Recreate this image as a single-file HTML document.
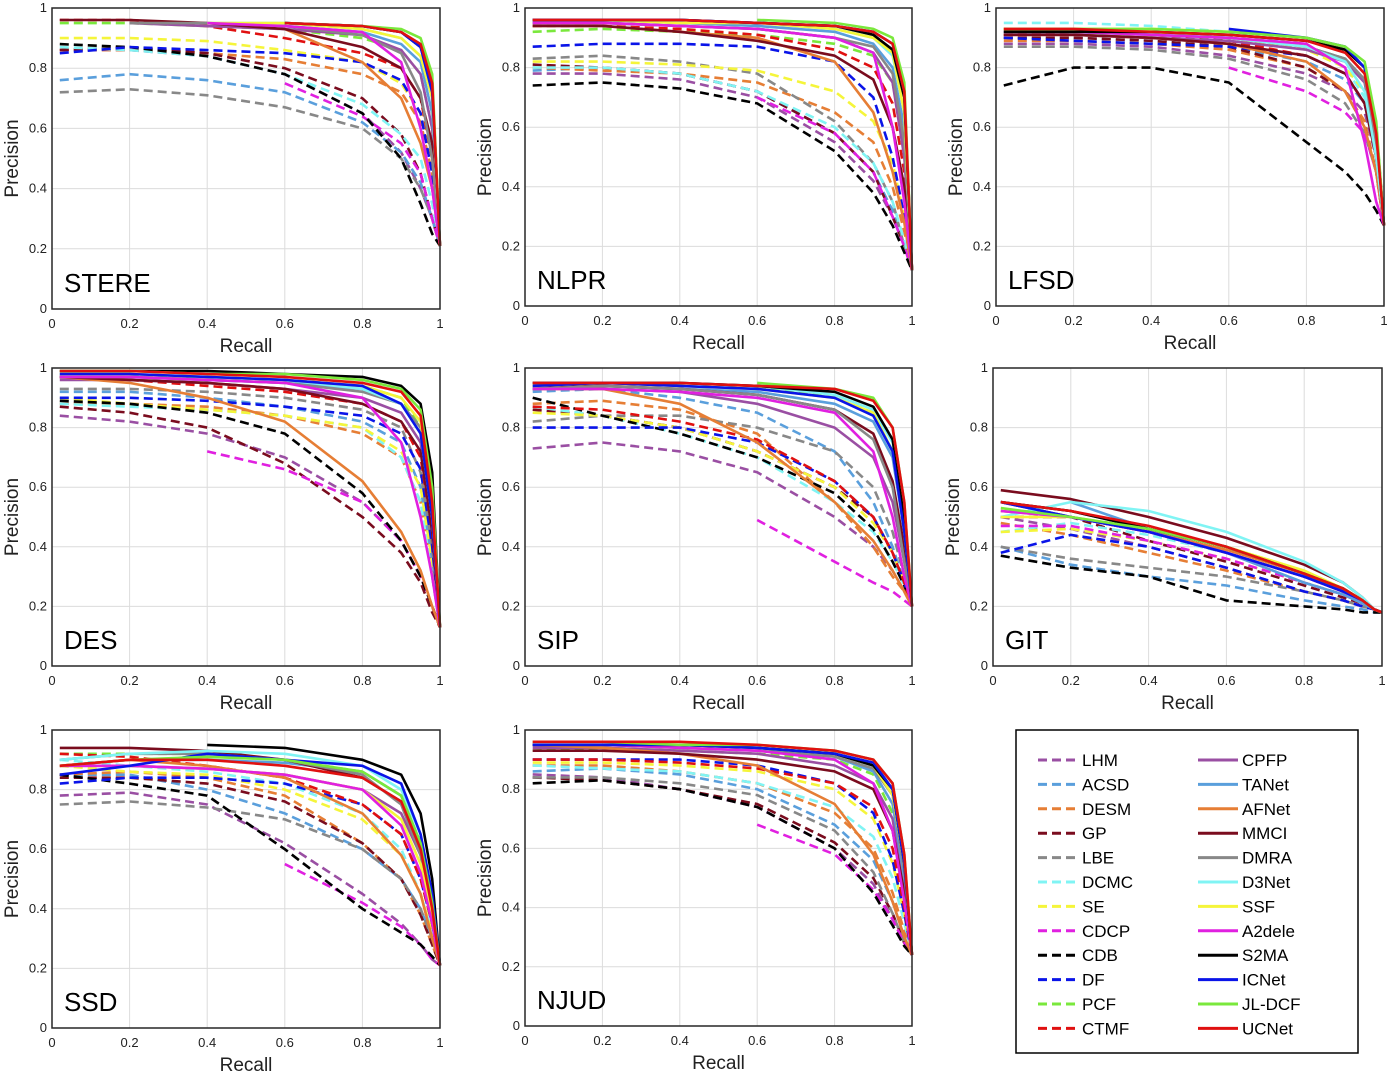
<!DOCTYPE html>
<html><head><meta charset="utf-8"><style>
html,body{margin:0;padding:0;background:#fff;}
svg{display:block;font-family:"Liberation Sans",sans-serif;}
</style></head><body>
<svg id="fig" width="1389" height="1077" viewBox="0 0 1389 1077"></svg>
<script>
const recallGrid = [0.02, 0.2, 0.4, 0.6, 0.8, 0.9, 0.95, 0.98];
const methods = ["LHM","ACSD","DESM","GP","LBE","DCMC","SE","CDCP","CDB","DF","PCF","CTMF","CPFP","TANet","AFNet","MMCI","DMRA","D3Net","SSF","A2dele","S2MA","ICNet","JL-DCF","UCNet"];
const colors = ["#9a4fa3","#5a9fdc","#e67e35","#7a0c1e","#888888","#80f4f4","#f5f53a","#e020e0","#000000","#0a14e8","#7ae83c","#e01010","#9a4fa3","#5a9fdc","#e67e35","#7a0c1e","#888888","#80f4f4","#f5f53a","#e020e0","#000000","#0a14e8","#7ae83c","#e01010"];
const datasets = ["STERE","NLPR","LFSD","DES","SIP","GIT","SSD","NJUD"];
const endValues = [0.21,0.12,0.27,0.13,0.2,0.18,0.21,0.24];
const STERE = [
[.86,.86,.84,.78,.65,.52,.4,.3],[.76,.78,.76,.72,.62,.52,.42,.3],[.86,.86,.85,.83,.78,.72,.62,.45],[.86,.87,.85,.80,.70,.58,.45,.3],
[.72,.73,.71,.67,.60,.5,.4,.3],[.87,.86,.84,.78,.68,.58,.5,.35],[.90,.90,.89,.86,.82,.75,.65,.5],[null,null,null,.75,.64,.55,.45,.3],
[.88,.87,.84,.78,.65,.5,.35,.25],[.85,.87,.86,.85,.82,.76,.65,.45],[.95,.95,.94,.93,.90,.86,.78,.6],[.96,.96,.94,.90,.85,.80,.7,.5],
[null,.95,.94,.93,.91,.86,.78,.6],[null,null,.95,.94,.92,.88,.82,.65],[null,null,null,.93,.82,.7,.55,.4],[.96,.96,.95,.93,.87,.8,.7,.55],
[null,.95,.95,.94,.91,.85,.72,.5],[null,null,.95,.95,.93,.9,.84,.7],[null,null,.95,.95,.93,.9,.84,.7],[null,null,.95,.94,.92,.82,.6,.4],
[null,null,null,.95,.94,.92,.87,.75],[null,null,null,.95,.94,.92,.87,.72],[null,null,null,.95,.94,.93,.9,.78],[null,null,null,.95,.94,.92,.88,.75]];
const NLPR = [
[.78,.78,.76,.70,.55,.42,.3,.2],[.79,.80,.78,.72,.58,.45,.32,.2],[.80,.79,.78,.75,.65,.55,.4,.25],[.81,.80,.78,.72,.58,.45,.3,.2],
[.83,.84,.82,.78,.62,.48,.35,.2],[.80,.80,.78,.72,.6,.48,.35,.22],[.82,.82,.81,.79,.72,.62,.48,.3],[null,null,null,.7,.58,.45,.3,.2],
[.74,.75,.73,.68,.52,.38,.27,.18],[.87,.88,.88,.87,.82,.7,.5,.3],[.92,.93,.92,.91,.88,.84,.75,.55],[.94,.94,.93,.91,.86,.8,.68,.45],
[.95,.95,.94,.93,.9,.85,.75,.5],[.95,.96,.95,.94,.92,.88,.8,.6],[.94,.94,.92,.9,.82,.65,.45,.28],[.94,.94,.92,.89,.84,.76,.6,.4],
[.95,.95,.94,.93,.9,.87,.78,.55],[.96,.96,.96,.95,.93,.9,.84,.65],[.96,.96,.95,.95,.93,.9,.85,.65],[.95,.95,.94,.93,.9,.85,.6,.35],
[.96,.96,.96,.95,.94,.91,.86,.7],[.96,.96,.96,.95,.94,.92,.88,.72],[null,null,null,.96,.95,.93,.9,.75],[.96,.96,.96,.95,.94,.92,.88,.72]];
const LFSD = [
[.88,.88,.87,.84,.78,.72,.65,.5],[.90,.90,.89,.87,.82,.76,.68,.5],[.89,.89,.88,.86,.80,.72,.62,.45],[.90,.90,.89,.87,.80,.72,.6,.45],
[.87,.87,.86,.83,.76,.68,.58,.45],[.95,.95,.94,.92,.87,.8,.7,.5],[.93,.93,.92,.9,.86,.8,.72,.55],[null,null,null,.8,.72,.65,.58,.45],
[.74,.80,.80,.75,.55,.45,.38,.32],[.90,.89,.88,.87,.84,.78,.68,.5],[.92,.92,.91,.9,.87,.83,.75,.58],[.91,.92,.91,.89,.84,.78,.68,.5],
[.91,.91,.9,.89,.86,.82,.75,.55],[.92,.92,.91,.9,.87,.83,.76,.55],[.91,.91,.9,.88,.82,.72,.6,.45],[.91,.91,.9,.88,.84,.78,.68,.5],
[.92,.92,.91,.9,.87,.83,.76,.55],[.92,.92,.91,.9,.87,.82,.72,.5],[.93,.93,.93,.92,.9,.86,.8,.6],[.92,.92,.91,.9,.88,.8,.55,.35],
[.92,.92,.92,.91,.89,.86,.8,.6],[null,null,null,.93,.9,.87,.8,.6],[.93,.93,.93,.92,.9,.87,.82,.62],[.93,.93,.92,.91,.89,.85,.78,.58]];
const DES = [
[.84,.82,.78,.7,.55,.42,.3,.2],[.92,.92,.9,.87,.82,.75,.6,.35],[.88,.88,.87,.84,.78,.7,.55,.3],[.87,.85,.8,.68,.5,.38,.28,.18],
[.93,.93,.92,.9,.86,.8,.65,.4],[.88,.87,.86,.84,.8,.7,.55,.3],[.90,.88,.86,.84,.8,.72,.6,.35],[null,null,.72,.66,.55,.42,.3,.2],
[.89,.88,.85,.78,.58,.42,.3,.2],[.9,.9,.89,.87,.84,.78,.66,.4],[.97,.97,.97,.96,.94,.9,.8,.5],[.97,.96,.94,.92,.88,.82,.7,.45],
[.96,.96,.95,.93,.9,.85,.75,.45],[.97,.97,.96,.95,.93,.88,.78,.5],[.97,.95,.9,.82,.62,.45,.32,.2],[.97,.96,.95,.93,.88,.82,.72,.45],
[.97,.97,.96,.95,.92,.88,.8,.5],[.98,.98,.97,.96,.93,.88,.78,.5],[.98,.98,.97,.96,.94,.9,.82,.55],[.97,.97,.96,.95,.9,.75,.5,.3],
[.99,.99,.99,.98,.97,.94,.88,.65],[.98,.98,.97,.96,.94,.88,.78,.5],[.99,.99,.98,.98,.96,.93,.86,.6],[.99,.99,.98,.97,.95,.92,.84,.55]];
const SIP = [
[.73,.75,.72,.65,.5,.4,.32,.25],[.92,.93,.9,.85,.72,.55,.4,.28],[.88,.89,.86,.78,.55,.4,.3,.25],[.86,.84,.8,.72,.6,.5,.38,.28],
[.82,.84,.84,.8,.72,.6,.45,.3],[.87,.84,.78,.7,.55,.45,.35,.27],[.85,.84,.8,.72,.6,.48,.38,.28],[null,null,null,.49,.35,.28,.25,.22],
[.9,.84,.78,.7,.58,.46,.35,.27],[.8,.8,.8,.75,.62,.5,.38,.28],[null,null,null,.94,.9,.85,.72,.45],[.87,.86,.82,.76,.62,.5,.38,.28],
[.93,.93,.92,.88,.8,.7,.55,.35],[.93,.94,.93,.92,.88,.82,.7,.45],[.93,.93,.88,.75,.55,.42,.32,.25],[.94,.94,.93,.91,.86,.78,.62,.4],
[.93,.94,.93,.91,.86,.76,.6,.35],[.94,.95,.95,.94,.91,.86,.75,.5],[.94,.95,.94,.93,.9,.85,.72,.45],[.93,.93,.92,.9,.85,.72,.5,.3],
[.95,.95,.95,.94,.92,.87,.76,.5],[.94,.95,.94,.93,.9,.84,.72,.45],[null,null,null,.95,.93,.9,.8,.55],[.95,.95,.95,.94,.93,.89,.8,.55]];
const GIT = [
[.5,.46,.4,.33,.25,.22,.2,.19],[.4,.34,.3,.27,.22,.2,.19,.18],[.48,.44,.38,.32,.25,.22,.2,.19],[.55,.5,.42,.35,.27,.23,.21,.19],
[.4,.36,.33,.3,.25,.22,.2,.19],[.45,.48,.44,.38,.3,.25,.22,.19],[.45,.46,.42,.36,.28,.24,.21,.19],[.47,.47,.42,.36,.28,.24,.21,.19],
[.37,.33,.3,.22,.2,.19,.18,.18],[.38,.44,.4,.33,.25,.22,.2,.19],[.5,.5,.45,.38,.3,.25,.22,.19],[.5,.5,.45,.38,.3,.25,.22,.19],
[.55,.5,.45,.38,.3,.25,.22,.19],[null,.55,.46,.38,.28,.24,.21,.19],[.52,.5,.45,.39,.31,.26,.22,.19],[.59,.56,.5,.43,.34,.28,.23,.19],
[.55,.52,.46,.4,.31,.26,.22,.19],[.5,.55,.52,.45,.35,.28,.23,.19],[.5,.5,.46,.4,.32,.26,.22,.19],[.52,.5,.45,.38,.3,.25,.22,.19],
[.55,.52,.46,.4,.31,.26,.22,.19],[.55,.5,.45,.38,.3,.25,.22,.19],[.53,.5,.46,.4,.31,.26,.22,.19],[.55,.52,.47,.4,.31,.26,.22,.19]];
const SSD = [
[.78,.79,.75,.62,.45,.35,.28,.23],[.85,.85,.8,.72,.6,.5,.4,.3],[.85,.86,.84,.78,.62,.5,.38,.28],[.84,.84,.82,.76,.62,.5,.38,.28],
[.75,.76,.74,.7,.6,.5,.4,.3],[.9,.88,.86,.82,.72,.6,.45,.32],[.88,.86,.85,.8,.7,.58,.45,.32],[null,null,null,.55,.42,.34,.28,.23],
[.85,.82,.78,.6,.4,.32,.28,.24],[.82,.84,.84,.82,.75,.65,.5,.35],[.92,.92,.92,.9,.86,.78,.62,.4],[.92,.91,.88,.84,.75,.65,.5,.35],
[.88,.88,.87,.85,.8,.72,.58,.4],[.88,.9,.9,.89,.86,.78,.62,.42],[.88,.9,.88,.84,.72,.58,.45,.3],[.94,.94,.93,.9,.84,.76,.62,.45],
[.9,.92,.92,.9,.85,.75,.58,.38],[.9,.92,.93,.92,.88,.8,.65,.42],[.88,.88,.87,.85,.8,.7,.55,.38],[.88,.88,.87,.85,.8,.68,.52,.35],
[null,null,.95,.94,.9,.85,.72,.5],[.85,.88,.92,.9,.88,.82,.65,.45],[.88,.9,.91,.9,.86,.78,.62,.42],[.88,.9,.9,.88,.84,.76,.6,.4]];
const NJUD = [
[.85,.84,.8,.74,.6,.48,.36,.28],[.86,.87,.85,.8,.68,.56,.42,.3],[.88,.88,.86,.82,.72,.6,.45,.32],[.84,.83,.8,.75,.62,.5,.38,.28],
[.84,.84,.82,.78,.66,.52,.38,.28],[.88,.87,.86,.82,.74,.64,.5,.35],[.89,.89,.88,.86,.8,.7,.55,.38],[null,null,null,.68,.58,.46,.36,.28],
[.82,.83,.8,.74,.6,.45,.34,.27],[.9,.9,.9,.88,.82,.72,.56,.38],[.93,.94,.93,.92,.9,.85,.72,.48],[.9,.9,.89,.87,.82,.74,.6,.4],
[.94,.94,.93,.92,.88,.82,.7,.45],[.95,.95,.95,.94,.91,.86,.75,.5],[.95,.94,.92,.88,.75,.58,.42,.3],[.93,.93,.92,.9,.86,.8,.66,.45],
[.95,.95,.94,.93,.91,.87,.78,.52],[.95,.95,.95,.94,.92,.88,.8,.55],[.95,.95,.95,.94,.92,.88,.78,.55],[.95,.95,.94,.93,.9,.82,.66,.42],
[.95,.95,.95,.94,.92,.88,.8,.55],[.95,.95,.95,.94,.92,.89,.8,.55],[.96,.96,.95,.95,.93,.9,.82,.58],[.96,.96,.96,.95,.93,.9,.82,.58]];
const seriesData = [STERE, NLPR, LFSD, DES, SIP, GIT, SSD, NJUD];
const tickValues = [0, 0.2, 0.4, 0.6, 0.8, 1];
const tickLabels = ["0","0.2","0.4","0.6","0.8","1"];

const boxes = [[52,440,8,309],[525,912,8,306],[996,1384,8,306],[52,440,368,666],[525,912,368,666],[993,1382,368,666],[52,440,730,1028],[525,912,730,1026]];
const NS = "http://www.w3.org/2000/svg";
const svg = document.getElementById('fig');
function mk(tag, attrs, parent){const e=document.createElementNS(NS,tag);for(const k in attrs)e.setAttribute(k,attrs[k]);(parent||svg).appendChild(e);return e;}

datasets.forEach((name, p) => {
  const [L,R,T,B] = boxes[p];
  const xs = v => L + v*(R-L);
  const ys = v => B - v*(B-T);
  const g = mk('g', {});
  
  
  mk('rect',{x:L,y:T,width:R-L,height:B-T,fill:'#fff'},g);
  tickValues.forEach((t,i) => {
    if (t>0 && t<1) {
      mk('line',{x1:xs(t),x2:xs(t),y1:T,y2:B,stroke:'#dcdcdc','stroke-width':1},g);
      mk('line',{x1:L,x2:R,y1:ys(t),y2:ys(t),stroke:'#dcdcdc','stroke-width':1},g);
    }
    const xt = mk('text',{x:xs(t),y:B+19,'text-anchor':'middle','font-size':13,fill:'#222'},g);
    xt.textContent = tickLabels[i];
    
    
    const yt = mk('text',{x:L-5,y:ys(t)+4,'text-anchor':'end','font-size':13,fill:'#222'},g);
    yt.textContent = tickLabels[i];
    
    
  });
  const data = seriesData[p];
  data.forEach((row, s) => {
    const pts = [];
    row.forEach((v,i) => { if (v !== null) pts.push([xs(recallGrid[i]), ys(v)]); });
    pts.push([xs(1), ys(endValues[p])]);
    const d = pts.map((q,i)=>(i?'L':'M')+q[0].toFixed(1)+','+q[1].toFixed(1)).join(' ');
    const path = mk('path',{d:d,fill:'none',stroke:colors[s],'stroke-width':2.6,'stroke-linejoin':'round'},g);
    if (s < 12) path.setAttribute('stroke-dasharray','9,5');
    
    
  });
  mk('rect',{x:L,y:T,width:R-L,height:B-T,fill:'none',stroke:'#262626','stroke-width':1.5},g);
  const xl = mk('text',{x:(L+R)/2,y:B+43,'text-anchor':'middle','font-size':19,fill:'#222'},g);
  xl.textContent = 'Recall';
  
  
  const yl = mk('text',{x:0,y:0,'text-anchor':'middle','font-size':19,fill:'#222',transform:`translate(${L-34},${(T+B)/2}) rotate(-90)`},g);
  yl.textContent = 'Precision';
  
  
  const nm = mk('text',{x:L+12,y:B-17,'font-size':26,fill:'#000'},g);
  nm.textContent = name;
  
  
});

const lg = mk('g',{});


mk('rect',{x:1016,y:730,width:342,height:323,fill:'#fff',stroke:'#000','stroke-width':1.5},lg);
methods.forEach((m,s) => {
  const col = s < 12 ? 0 : 1;
  const row = s % 12;
  const y = 760 + row*24.4;
  const x0 = col ? 1198 : 1038;
  const ln = mk('line',{x1:x0,x2:x0+40,y1:y,y2:y,stroke:colors[s],'stroke-width':3},lg);
  if (!col) ln.setAttribute('stroke-dasharray','9,5');
  
  
  const t = mk('text',{x:x0+44,y:y+6,'font-size':17,fill:'#000'},lg);
  t.textContent = m;
  
  
});
</script>
</body></html>
